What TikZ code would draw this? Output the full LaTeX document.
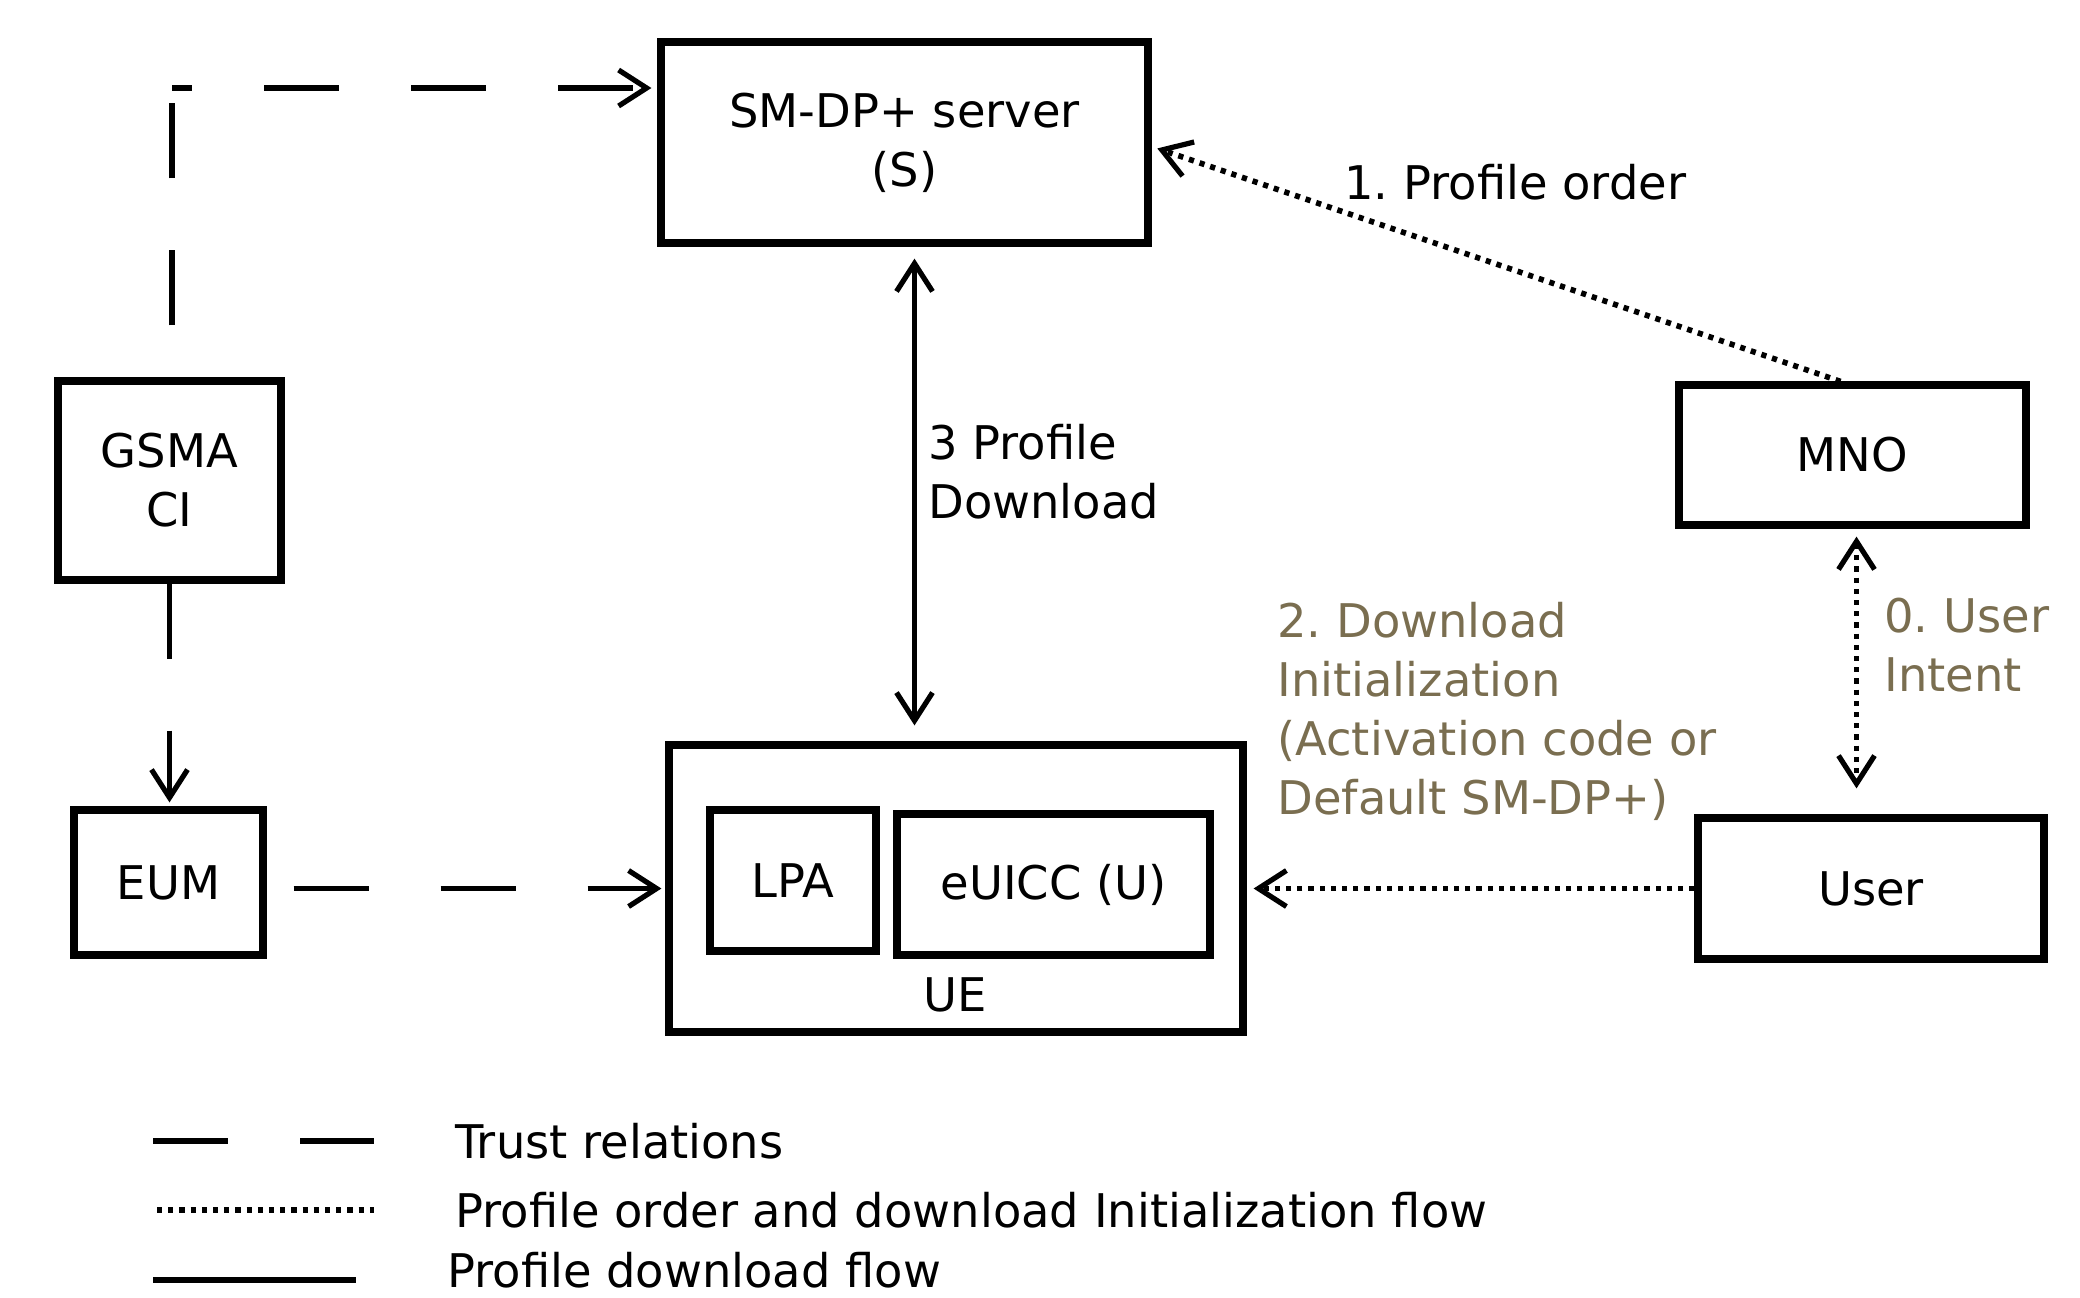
\documentclass[tikz,border=0pt]{standalone}
\usepackage{fontspec}
\setmainfont{DejaVu Sans}
\usetikzlibrary{arrows.meta}
\definecolor{olivetext}{RGB}{122,110,80}
\frenchspacing
\tikzset{
  box/.style={draw, line width=3.6pt, inner sep=0pt, align=center},
  lbl/.style={inner sep=0pt, anchor=west, align=left},
  trust/.style={line width=2.8pt, dash pattern=on 37.5pt off 36pt},
  dotflow/.style={line width=2.8pt, dash pattern=on 2.6pt off 3pt},
  dlflow/.style={line width=2.8pt},
  tip/.style={-{Straight Barb[length=14pt,width=18pt,line width=2.6pt]}},
  dtip/.style={{Straight Barb[length=14pt,width=18pt,line width=2.6pt]}-{Straight Barb[length=14pt,width=18pt,line width=2.6pt]}}
}
\begin{document}
\begin{tikzpicture}[x=0.5pt,y=-0.5pt,font=\fontsize{23.2pt}{29.5pt}\selectfont]
\useasboundingbox (0,0) rectangle (2080,1297);
% boxes
\node[box, minimum width=243.5pt, minimum height=100.5pt] (smdp) at (904.5,142.5) {SM-DP+ server\\(S)};
\node[box, minimum width=111.5pt, minimum height=99.5pt] (gsma) at (169.5,480.5) {GSMA\\CI};
\node[box, minimum width=94.5pt, minimum height=72.5pt] (eum) at (168.5,882.5) {EUM};
\node[box, minimum width=287pt, minimum height=143.5pt] (ue) at (956,888.5) {};
\node[box, minimum width=83pt, minimum height=70.5pt] (lpa) at (793,880.5) {LPA};
\node[box, minimum width=156.5pt, minimum height=70.5pt] (euicc) at (1053.5,884.5) {eUICC (U)};
\node[inner sep=0pt] (uelbl) at (955,995) {UE};
\node[box, minimum width=173.5pt, minimum height=70pt] (mno) at (1852.5,455) {MNO};
\node[box, minimum width=173pt, minimum height=70.5pt] (user) at (1871,888.5) {User};
% labels
\node[lbl] (l1) at (1344,182) {1. Profile order};
\node[lbl] (l3) at (928,471.5) {3 Profile\\Download};
\node[lbl, text=olivetext] (l2) at (1277,711) {2. Download\\Initialization\\(Activation code or\\Default SM-DP+)};
\node[lbl, text=olivetext] (l0) at (1884,645) {0. User\\Intent};
% trust relations
\coordinate (c1) at (172,88);
\draw[trust, dash phase=47.5pt] (gsma.north -| c1) -- (c1);
\draw[trust, tip, dash phase=27.5pt, shorten >=3pt] (c1) -- (c1 -| smdp.west);
\draw[trust, tip, shorten >=2pt] (gsma.south) -- (gsma.south |- eum.north);
\draw[trust, tip, dash phase=60pt, shorten >=2pt] (eum.east |- ue.west) -- (ue.west);
% profile download
\draw[dlflow, dtip, shorten <=6pt, shorten >=8pt] ([xshift=5pt]smdp.south) -- ([xshift=5pt]smdp.south |- ue.north);
% dotted flows
\draw[dotflow, tip, shorten >=3pt] ([xshift=-6pt]mno.north) -- ([yshift=-2pt]smdp.east);
\draw[dotflow, dtip, shorten <=4pt, shorten >=13pt] ([xshift=2pt]mno.south) -- ([xshift=2pt]mno.south |- user.north);
\draw[dotflow, tip, shorten >=3.5pt] (user.west) -- (ue.east);
% legend
\coordinate (t1) at (153,1141); \coordinate (t2) at (374,1141);
\coordinate (d1) at (157,1210); \coordinate (d2) at (374,1210);
\coordinate (s1) at (153,1280); \coordinate (s2) at (356,1280);
\draw[trust] (t1) -- (t2);
\draw[dotflow] (d1) -- (d2);
\draw[dlflow, line width=3.4pt] (s1) -- (s2);
\node[lbl] (lt) at (455,1141) {Trust relations};
\node[lbl] (ld) at (455,1210) {Profile order and download Initialization flow};
\node[lbl] (lp) at (447,1270) {Profile download flow};
\end{tikzpicture}
\end{document}
